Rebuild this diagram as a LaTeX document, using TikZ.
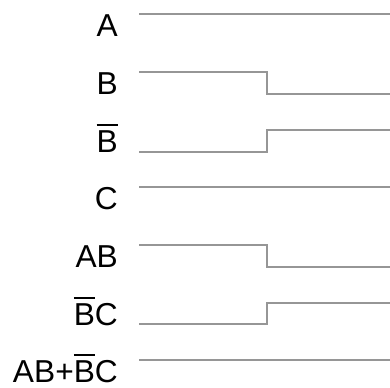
\documentclass[tikz,border=0pt]{standalone}
\usepackage{fontspec}
\setmainfont{Liberation Sans}
% letter(s) with a negation bar over them
\newcommand\negbar[1]{\setbox0\hbox{#1}\rlap{\raisebox{\dimexpr\ht0+4.5bp\relax}{\rule{\wd0}{1.8bp}}}\box0}
\begin{document}
\begin{tikzpicture}[x=1bp,y=-1bp,
  sig/.style={draw={rgb,255:red,150;green,150;blue,150},line width=1.5bp},
  lbl/.style={anchor=base east,inner sep=0pt,font=\fontsize{31.7bp}{38bp}\selectfont}]
\useasboundingbox (0,0) rectangle (390,388);
% signal labels (baseline at the low level of each row)
\node[lbl] (lA)  at (118,36)  {A};
\node[lbl] (lB)  at (118,94)  {B};
\node[lbl] (lnB) at (118,152) {\negbar{B}};
\node[lbl] (lC)  at (118,209) {C};
\node[lbl] (lAB) at (118,267) {AB};
\node[lbl] (lnBC) at (118,325) {\negbar{B}C};
\node[lbl] (lY)  at (118,382) {AB+\negbar{B}C};
% waveforms: start, edge, end points
\coordinate (a0) at (139,14);  \coordinate (a1) at (390,14);
\coordinate (b0) at (139,72);  \coordinate (b1) at (267,72);
\coordinate (b2) at (267,94);  \coordinate (b3) at (390,94);
\coordinate (n0) at (139,152); \coordinate (n1) at (267,152);
\coordinate (n2) at (267,130); \coordinate (n3) at (390,130);
\coordinate (c0) at (139,187); \coordinate (c1) at (390,187);
\coordinate (d0) at (139,245); \coordinate (d1) at (267,245);
\coordinate (d2) at (267,267); \coordinate (d3) at (390,267);
\coordinate (e0) at (139,324); \coordinate (e1) at (267,324);
\coordinate (e2) at (267,303); \coordinate (e3) at (390,303);
\coordinate (y0) at (139,360); \coordinate (y1) at (390,360);
\draw[sig] (a0) -- (a1);
\draw[sig] (b0) -- (b1) -- (b2) -- (b3);
\draw[sig] (n0) -- (n1) -- (n2) -- (n3);
\draw[sig] (c0) -- (c1);
\draw[sig] (d0) -- (d1) -- (d2) -- (d3);
\draw[sig] (e0) -- (e1) -- (e2) -- (e3);
\draw[sig] (y0) -- (y1);
\end{tikzpicture}
\end{document}
